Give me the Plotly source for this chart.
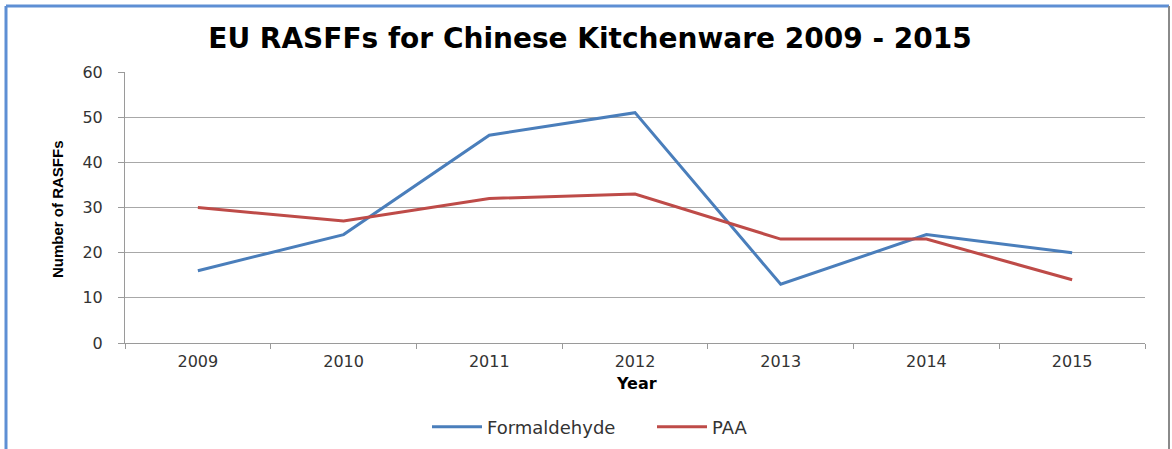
import plotly.graph_objects as go

years = ["2009", "2010", "2011", "2012", "2013", "2014", "2015"]
formaldehyde = [16, 24, 46, 51, 13, 24, 20]
paa = [30, 27, 32, 33, 23, 23, 14]

W, H = 1172, 449
L, R, T, B = 125, 27, 72, 106
PW, PH = W - L - R, H - T - B


def px(x):
    return (x - L) / PW


def py(y):
    return (H - B - y) / PH


fig = go.Figure()
fig.add_trace(go.Scatter(x=years, y=formaldehyde, mode="lines", name="Formaldehyde",
                         line=dict(color="#4a7ebb", width=3)))
fig.add_trace(go.Scatter(x=years, y=paa, mode="lines", name="PAA",
                         line=dict(color="#be4b48", width=3)))

tick_font = dict(family="DejaVu Sans, Verdana, sans-serif", size=16, color="#333333")

fig.update_layout(
    width=W, height=H,
    margin=dict(l=L, r=R, t=T, b=B, autoexpand=False),
    paper_bgcolor="white", plot_bgcolor="white",
    title=dict(text="<b>EU RASFFs for Chinese Kitchenware 2009 - 2015</b>",
               font=dict(family="DejaVu Sans, Verdana, sans-serif", size=28, color="black"),
               x=590 / W, xanchor="center", y=1 - 38 / H, yanchor="middle"),
    xaxis=dict(type="category", range=[-0.5, 6.5], showgrid=False,
               showline=True, linecolor="#9a9a9a", linewidth=1,
               ticks="outside", tickson="boundaries", ticklen=5, tickcolor="#9a9a9a",
               tickfont=tick_font, ticklabelstandoff=4, fixedrange=True),
    yaxis=dict(range=[0, 60], dtick=10, showgrid=True, gridcolor="#a8a8a8", gridwidth=1,
               showline=True, linecolor="#9a9a9a", linewidth=1, zeroline=False,
               ticks="outside", ticklen=6, tickcolor="#9a9a9a",
               tickfont=tick_font, ticklabelstandoff=12),
    legend=dict(orientation="h", x=px(427), xanchor="left", y=py(427), yanchor="middle",
                font=dict(family="DejaVu Sans, Verdana, sans-serif", size=18, color="#333333"),
                bgcolor="rgba(0,0,0,0)", itemwidth=50, entrywidth=160, entrywidthmode="pixels"),
    showlegend=True,
)

fig.add_annotation(text="<b>Year</b>", xref="paper", yref="paper", x=px(636), y=py(383),
                   xanchor="center", yanchor="middle", showarrow=False,
                   font=dict(family="DejaVu Sans, Verdana, sans-serif", size=16, color="black"))
fig.add_annotation(text="<b>Number of RASFFs</b>", xref="paper", yref="paper", x=px(57), y=py(209),
                   xanchor="center", yanchor="middle", showarrow=False, textangle=-90,
                   font=dict(family="Liberation Sans Narrow, Arial Narrow, sans-serif", size=15, color="black"))

# frame
fig.add_shape(type="line", xref="paper", yref="paper", x0=px(6), x1=px(1169), y0=py(6), y1=py(6),
              line=dict(color="#5e8fd4", width=3))
fig.add_shape(type="line", xref="paper", yref="paper", x0=px(6), x1=px(6), y0=py(6), y1=py(452),
              line=dict(color="#5e8fd4", width=3))
fig.add_shape(type="line", xref="paper", yref="paper", x0=px(1169), x1=px(1169), y0=py(6), y1=py(452),
              line=dict(color="#8a8a8a", width=2))

fig.write_html("out.html", config={"displayModeBar": False})

with open("out.html", encoding="utf-8") as f:
    html = f.read()
html = html.replace("<head>", "<head><style>html,body{margin:0;padding:0;overflow:hidden}</style>", 1)
with open("out.html", "w", encoding="utf-8") as f:
    f.write(html)
